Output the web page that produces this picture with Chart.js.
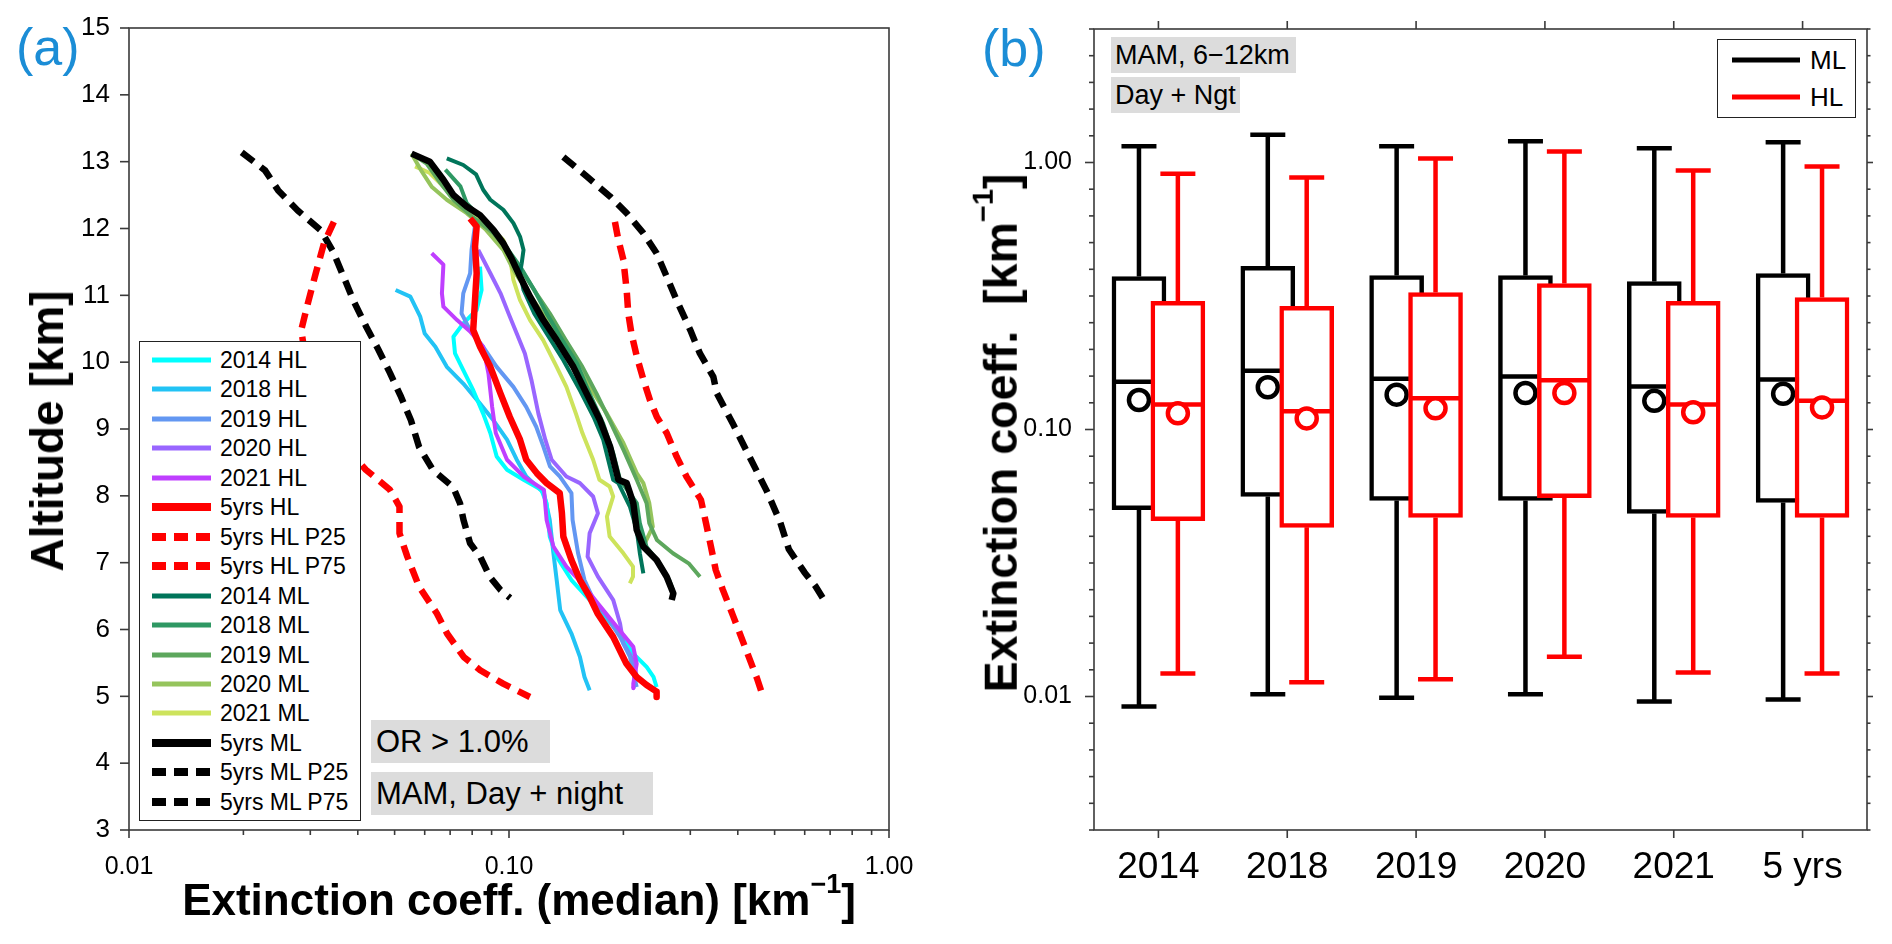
<!DOCTYPE html>
<html><head><meta charset="utf-8">
<script src="https://cdn.jsdelivr.net/npm/chart.js@4.4.1/dist/chart.umd.min.js"></script>
<style>
html,body{margin:0;padding:0;background:#fff;}
body{width:1892px;height:944px;position:relative;overflow:hidden;font-family:'Liberation Sans',Arial,Helvetica,sans-serif;color:#000;}
.wrap{position:absolute;top:0;width:946px;height:944px;}
.ov{position:absolute;white-space:nowrap;line-height:1;}
.panel{font-size:52px;color:#1b8dd6;}
.tag{background:#dcdcdc;box-sizing:border-box;}
.ttl{font-weight:bold;}
.sup{line-height:0;}
.leg{position:absolute;border:1.5px solid #222;background:#fff;box-sizing:border-box;}
.lrow{position:absolute;height:24px;display:flex;align-items:center;white-space:nowrap;}
.lrow span{line-height:24px;}
</style></head>
<body>
<div class="wrap" style="left:0"><canvas id="cA"></canvas></div>
<div class="wrap" style="left:946px"><canvas id="cB"></canvas></div>

<div class="ov panel" style="left:16px;top:21px">(a)</div>
<div class="ov panel" style="left:982px;top:22px">(b)</div>

<div class="ov ttl" style="left:47px;top:431px;font-size:46px;transform:translate(-50%,-50%) rotate(-90deg);">Altitude [km]</div>
<div class="ov ttl" style="left:519px;top:878px;font-size:44px;transform:translateX(-50%);">Extinction coeff. (median) [km<span class="sup" style="font-size:27px;vertical-align:22px;">−1</span>]</div>
<div class="ov ttl" style="left:1001px;top:433px;font-size:46.5px;transform:translate(-50%,-50%) rotate(-90deg);">Extinction coeff.&nbsp; [km<span class="sup" style="font-size:29px;vertical-align:24px;">−1</span>]</div>

<div class="ov tag" style="left:371px;top:720px;width:179px;height:43px;line-height:43px;font-size:31px;padding-left:5px;">OR &gt; 1.0%</div>
<div class="ov tag" style="left:371px;top:772px;width:282px;height:43px;line-height:43px;font-size:31px;padding-left:5px;">MAM, Day + night</div>
<div class="ov tag" style="left:1111px;top:37px;width:185px;height:36px;line-height:36px;font-size:27px;padding-left:4px;">MAM, 6−12km</div>
<div class="ov tag" style="left:1111px;top:77px;width:129px;height:36px;line-height:36px;font-size:27px;padding-left:4px;">Day + Ngt</div>

<div id="legA" class="leg" style="left:139px;top:341px;width:222px;height:480px;"></div>
<div id="legB" class="leg" style="left:1717px;top:39px;width:139px;height:79px;"></div>

<script>
// ---------------- DATA: panel (a) — [extinction km^-1, altitude km] ----------------
const hl2014 = [[0.0839,11.43],[0.0847,11.08],[0.0822,10.78],[0.0758,10.58],[0.0714,10.38],[0.0721,10.13],[0.0758,9.88],[0.0805,9.58],[0.0855,9.23],[0.0893,8.94],[0.0928,8.59],[0.0988,8.39],[0.1092,8.24],[0.1216,8.09],[0.1256,7.89],[0.128,7.39],[0.1335,7.09],[0.146,6.74],[0.1601,6.49],[0.1756,6.24],[0.192,5.99],[0.2124,5.64],[0.2302,5.44],[0.24,5.29],[0.2446,5.14]];
const hl2018 = [[0.0503,11.08],[0.0550,10.98],[0.0584,10.68],[0.0600,10.43],[0.0640,10.23],[0.0686,9.93],[0.0758,9.68],[0.0839,9.38],[0.0910,9.13],[0.0988,8.84],[0.1048,8.54],[0.1110,8.29],[0.1236,8.04],[0.128,7.64],[0.1309,7.14],[0.1335,6.74],[0.1364,6.29],[0.146,5.94],[0.1537,5.59],[0.158,5.29],[0.163,5.09]];
const hl2019 = [[0.0814,12.05],[0.0797,11.68],[0.0790,11.33],[0.0758,11.03],[0.0750,10.73],[0.0790,10.48],[0.0855,10.23],[0.0928,9.93],[0.1027,9.63],[0.1110,9.33],[0.1180,9.03],[0.1231,8.74],[0.1282,8.44],[0.136,8.29],[0.146,8.04],[0.147,7.64],[0.152,7.14],[0.158,6.74],[0.167,6.44],[0.181,6.19],[0.196,5.89],[0.2082,5.59],[0.2124,5.34],[0.2168,5.14]];
const hl2020 = [[0.0830,11.68],[0.0893,11.33],[0.0950,11.03],[0.0997,10.73],[0.1048,10.43],[0.1101,10.13],[0.1146,9.73],[0.1195,9.23],[0.1246,8.84],[0.1295,8.54],[0.1416,8.29],[0.1537,8.19],[0.1665,7.99],[0.1714,7.74],[0.163,7.44],[0.161,7.09],[0.1714,6.79],[0.1881,6.44],[0.196,6.09],[0.200,5.79],[0.2124,5.54],[0.2168,5.29],[0.2124,5.12]];
const hl2021 = [[0.0626,11.63],[0.0672,11.46],[0.0666,11.03],[0.0672,10.83],[0.0730,10.63],[0.0790,10.46],[0.0855,10.23],[0.0883,9.83],[0.0903,9.33],[0.0923,8.94],[0.0988,8.54],[0.1092,8.29],[0.1236,8.09],[0.1256,7.64],[0.1309,7.24],[0.1416,6.94],[0.1558,6.69],[0.1714,6.39],[0.1922,6.04],[0.2124,5.74],[0.2168,5.49],[0.2124,5.19],[0.2124,5.12]];
const hl5yrs = [[0.0790,12.15],[0.0822,12.03],[0.0814,11.73],[0.0822,11.33],[0.0814,10.93],[0.0805,10.48],[0.0839,10.23],[0.0893,9.93],[0.0950,9.53],[0.1005,9.18],[0.1069,8.84],[0.1110,8.54],[0.1183,8.34],[0.1256,8.19],[0.136,8.04],[0.1378,7.74],[0.139,7.39],[0.146,7.04],[0.1537,6.74],[0.163,6.49],[0.171,6.24],[0.188,5.89],[0.2036,5.49],[0.2168,5.29],[0.2302,5.17],[0.2446,5.07],[0.2446,4.99]];
const hlP25 = [[0.0346,12.1],[0.0326,11.78],[0.031,11.33],[0.0294,10.83],[0.0284,10.48],[0.029,10.14],[0.0318,9.84],[0.0338,9.48],[0.0361,9.03],[0.0384,8.64],[0.042,8.39],[0.0486,8.09],[0.0515,7.84],[0.0515,7.44],[0.054,7.09],[0.058,6.64],[0.0646,6.24],[0.0687,5.94],[0.076,5.59],[0.084,5.39],[0.0965,5.19],[0.1135,4.99]];
const hlP75 = [[0.19,12.1],[0.194,11.83],[0.2,11.53],[0.204,11.08],[0.206,10.73],[0.21,10.43],[0.217,10.08],[0.226,9.73],[0.235,9.43],[0.245,9.18],[0.26,8.94],[0.276,8.59],[0.293,8.29],[0.32,7.94],[0.33,7.59],[0.34,7.24],[0.35,6.89],[0.365,6.6],[0.389,6.2],[0.423,5.66],[0.45,5.26],[0.466,5.0]];
const ml2014 = [[0.0686,13.05],[0.0758,12.95],[0.0819,12.81],[0.0855,12.58],[0.0893,12.43],[0.0966,12.28],[0.1027,12.08],[0.1069,11.88],[0.1092,11.68],[0.108,11.48],[0.1069,11.33],[0.1092,11.08],[0.1165,10.73],[0.1256,10.43],[0.139,10.03],[0.1537,9.58],[0.167,9.18],[0.177,8.84],[0.188,8.24],[0.194,8.19],[0.208,7.84],[0.2168,7.49],[0.221,7.14],[0.2257,6.84]];
const ml2018 = [[0.068,12.88],[0.0745,12.63],[0.0774,12.38],[0.087,12.08],[0.098,11.73],[0.107,11.43],[0.1165,11.08],[0.1256,10.73],[0.1364,10.38],[0.151,9.98],[0.163,9.53],[0.177,9.08],[0.188,8.64],[0.196,8.24],[0.204,8.1],[0.217,7.89],[0.221,7.59],[0.23,7.24],[0.249,6.99],[0.264,6.74],[0.27,6.59]];
const ml2019 = [[0.0554,13.12],[0.0607,12.97],[0.066,12.68],[0.0714,12.43],[0.080,12.18],[0.091,11.93],[0.1005,11.63],[0.1092,11.33],[0.118,11.03],[0.128,10.73],[0.141,10.33],[0.156,9.93],[0.170,9.53],[0.184,9.13],[0.2,8.69],[0.2168,8.24],[0.2302,7.89],[0.234,7.59],[0.245,7.34],[0.27,7.14],[0.297,6.99],[0.318,6.79]];
const ml2020 = [[0.0554,13.12],[0.0587,12.87],[0.0627,12.62],[0.0686,12.43],[0.0774,12.23],[0.087,11.98],[0.0966,11.68],[0.1027,11.38],[0.111,11.08],[0.121,10.78],[0.1335,10.43],[0.1477,10.03],[0.163,9.63],[0.181,9.23],[0.2,8.79],[0.2168,8.34],[0.2257,8.19],[0.234,7.89],[0.239,7.54],[0.23,7.34],[0.2257,7.24]];
const ml2021 = [[0.0566,12.93],[0.0619,12.83],[0.0686,12.58],[0.0774,12.33],[0.087,12.08],[0.0966,11.83],[0.1005,11.58],[0.1027,11.23],[0.1069,10.93],[0.1136,10.63],[0.123,10.33],[0.1335,9.93],[0.1416,9.63],[0.15,9.23],[0.156,8.94],[0.1665,8.54],[0.173,8.24],[0.184,8.14],[0.188,7.99],[0.181,7.69],[0.184,7.39],[0.2,7.14],[0.212,6.94],[0.212,6.79],[0.208,6.69]];
const ml5yrs = [[0.0554,13.12],[0.0619,13.0],[0.0672,12.73],[0.0714,12.5],[0.0774,12.33],[0.0839,12.2],[0.091,11.98],[0.0966,11.78],[0.1016,11.55],[0.1069,11.28],[0.1136,10.98],[0.1231,10.63],[0.1335,10.33],[0.1477,9.93],[0.1601,9.53],[0.1736,9.13],[0.1844,8.74],[0.194,8.24],[0.204,8.19],[0.2124,7.89],[0.2168,7.49],[0.2257,7.24],[0.2446,7.04],[0.26,6.79],[0.2707,6.54],[0.268,6.44]];
const mlP25 = [[0.0198,13.14],[0.0228,12.87],[0.0247,12.57],[0.0278,12.27],[0.032,11.97],[0.0344,11.66],[0.0372,11.2],[0.0389,10.93],[0.0421,10.53],[0.0452,10.2],[0.0486,9.84],[0.052,9.48],[0.0552,9.13],[0.058,8.73],[0.063,8.39],[0.0713,8.13],[0.0743,7.89],[0.0759,7.64],[0.079,7.29],[0.084,7.09],[0.089,6.79],[0.095,6.59],[0.1007,6.47]];
const mlP75 = [[0.139,13.07],[0.160,12.78],[0.1844,12.48],[0.204,12.23],[0.2257,11.93],[0.2446,11.63],[0.26,11.28],[0.276,10.93],[0.30,10.48],[0.318,10.13],[0.345,9.78],[0.352,9.54],[0.389,9.07],[0.422,8.67],[0.477,8.07],[0.517,7.61],[0.545,7.2],[0.60,6.85],[0.64,6.65],[0.675,6.44]];
const xTicksA = [0.01, 0.1, 1];
const yTicksA = [3,4,5,6,7,8,9,10,11,12,13,14,15];

// ---------------- DATA: panel (b) ----------------
const categories = ['2014','2018','2019','2020','2021','5 yrs'];
const mlMax  = [1.15, 1.27, 1.15, 1.20, 1.13, 1.19];
const mlQ3   = [0.374, 0.408, 0.377, 0.377, 0.358, 0.384];
const mlMed  = [0.151, 0.166, 0.155, 0.158, 0.145, 0.154];
const mlQ1   = [0.0501, 0.0561, 0.0542, 0.0542, 0.0485, 0.0533];
const mlMin  = [0.00918, 0.0102, 0.0099, 0.0102, 0.00958, 0.00975];
const mlMean = [0.129, 0.144, 0.135, 0.137, 0.128, 0.136];
const hlMax  = [0.907, 0.879, 1.035, 1.10, 0.933, 0.966];
const hlQ3   = [0.302, 0.289, 0.326, 0.352, 0.302, 0.312];
const hlMed  = [0.124, 0.117, 0.131, 0.153, 0.124, 0.128];
const hlQ1   = [0.0456, 0.043, 0.0468, 0.0556, 0.0468, 0.0468];
const hlMin  = [0.0122, 0.0113, 0.0116, 0.0141, 0.0123, 0.0122];
const hlMean = [0.115, 0.110, 0.120, 0.137, 0.116, 0.121];
const yTicksB = [0.01, 0.1, 1];

// ---------------- styling ----------------
Chart.defaults.font.family = "'Liberation Sans', Arial, Helvetica, sans-serif";
Chart.defaults.color = '#000';
const FRAME = '#3a3a3a';
const DASH = [15, 9];
const BOXW = 4.5;

const seriesA = [
  {label:'2014 HL', data:hl2014, color:'#00ffff', w:4, order:6},
  {label:'2018 HL', data:hl2018, color:'#22c3f5', w:4, order:6},
  {label:'2019 HL', data:hl2019, color:'#6397f2', w:4, order:5},
  {label:'2020 HL', data:hl2020, color:'#9966ff', w:4, order:5},
  {label:'2021 HL', data:hl2021, color:'#bf3fff', w:4, order:4},
  {label:'5yrs HL', data:hl5yrs, color:'#ff0000', w:6.5, order:0},
  {label:'5yrs HL P25', data:hlP25, color:'#ff0000', w:6.5, dash:DASH, order:2},
  {label:'5yrs HL P75', data:hlP75, color:'#ff0000', w:6.5, dash:DASH, order:2},
  {label:'2014 ML', data:ml2014, color:'#00755a', w:4, order:3},
  {label:'2018 ML', data:ml2018, color:'#2e9863', w:4, order:3},
  {label:'2019 ML', data:ml2019, color:'#5da75d', w:4, order:3},
  {label:'2020 ML', data:ml2020, color:'#95c45c', w:4, order:3},
  {label:'2021 ML', data:ml2021, color:'#cde35c', w:4, order:3},
  {label:'5yrs ML', data:ml5yrs, color:'#000000', w:6.5, order:1},
  {label:'5yrs ML P25', data:mlP25, color:'#000000', w:6.5, dash:DASH, order:2},
  {label:'5yrs ML P75', data:mlP75, color:'#000000', w:6.5, dash:DASH, order:2}
];

function line(ctx,x1,y1,x2,y2){ctx.beginPath();ctx.moveTo(x1,y1);ctx.lineTo(x2,y2);ctx.stroke();}

const frameA = {
  id:'frameA',
  afterDraw(chart){
    const {ctx, chartArea:a, scales:{x, y}} = chart;
    ctx.save();
    ctx.strokeStyle = FRAME; ctx.lineWidth = 1.6;
    ctx.strokeRect(a.left, a.top, a.right-a.left, a.bottom-a.top);
    for (let d = 0.01; d < 1.0001; d *= 10) {
      for (let m = 1; m <= 9; m++) {
        const v = m*d; if (v > 1.0001) break;
        const px = x.getPixelForValue(v);
        line(ctx, px, a.bottom, px, a.bottom + (m===1 ? 8 : 5));
      }
    }
    yTicksA.forEach(v => { const py = y.getPixelForValue(v); line(ctx, a.left-9, py, a.left, py); });
    ctx.restore();
  }
};

const chartA = new Chart(document.getElementById('cA'), {
  type:'scatter',
  data:{datasets: seriesA.map(s => ({
    label:s.label, data:s.data.map(p => ({x:p[0], y:p[1]})),
    showLine:true, borderColor:s.color, backgroundColor:s.color, borderWidth:s.w,
    borderDash:s.dash || [], pointRadius:0, pointHoverRadius:0, tension:0,
    borderCapStyle:'butt', borderJoinStyle:'round', order:s.order
  }))},
  options:{
    responsive:true, maintainAspectRatio:false, animation:false, events:[],
    layout:{padding:{top:28, right:57, left:0, bottom:0}},
    plugins:{legend:{display:false}, tooltip:{enabled:false}},
    scales:{
      x:{type:'logarithmic', min:0.01, max:1,
         grid:{display:false}, border:{display:false},
         afterBuildTicks(s){ s.ticks = xTicksA.map(v => ({value:v, major:true})); },
         afterFit(s){ s.height = 114; },
         ticks:{autoSkip:false, maxRotation:0, minRotation:0, padding:14, font:{size:25},
                callback:(v) => Number(v).toFixed(2)}},
      y:{type:'linear', min:3, max:15,
         grid:{display:false}, border:{display:false},
         afterBuildTicks(s){ s.ticks = yTicksA.map(v => ({value:v})); },
         afterFit(s){ s.width = 129; },
         ticks:{autoSkip:false, padding:11, font:{size:26}, callback:(v) => String(v)}}
    }
  },
  plugins:[frameA]
});

// legend (a)
const legA = document.getElementById('legA');
seriesA.forEach((s, i) => {
  const row = document.createElement('div');
  row.className = 'lrow';
  row.style.left = '12px';
  row.style.top = (18 + i*29.45 - 12) + 'px';
  const lw = s.w > 5 ? 8 : 5;
  const dash = s.dash ? `stroke-dasharray="14 8"` : '';
  row.innerHTML = `<svg width="59" height="24" style="display:block"><line x1="0" y1="12" x2="59" y2="12" stroke="${s.color}" stroke-width="${lw}" ${dash}/></svg><span style="font-size:23px;margin-left:9px">${s.label}</span>`;
  legA.appendChild(row);
});

// ---------------- panel (b) ----------------
const OFF = 0.151;
const statsB = {
  ML:{min:mlMin, q1:mlQ1, med:mlMed, q3:mlQ3, max:mlMax},
  HL:{min:hlMin, q1:hlQ1, med:hlMed, q3:hlQ3, max:hlMax}
};

const whiskers = {
  id:'whiskers',
  afterDatasetDraw(chart, args){
    const ds = chart.data.datasets[args.index];
    if (ds.type !== 'bar') return;
    const st = statsB[ds.label];
    const y = chart.scales.y, ctx = chart.ctx;
    ctx.save();
    ctx.strokeStyle = ds.borderColor; ctx.lineWidth = BOXW; ctx.lineCap = 'butt';
    args.meta.data.forEach((el, i) => {
      const x = el.x, w = el.width;
      const yMax = y.getPixelForValue(st.max[i]), yQ3 = y.getPixelForValue(st.q3[i]);
      const yMin = y.getPixelForValue(st.min[i]), yQ1 = y.getPixelForValue(st.q1[i]);
      const yMed = y.getPixelForValue(st.med[i]);
      line(ctx, x, yQ3, x, yMax); line(ctx, x-17.5, yMax, x+17.5, yMax);
      line(ctx, x, yQ1, x, yMin); line(ctx, x-17.5, yMin, x+17.5, yMin);
      line(ctx, x - w/2 + 2, yMed, x + w/2 - 2, yMed);
    });
    ctx.restore();
  }
};

const frameB = {
  id:'frameB',
  afterDraw(chart){
    const {ctx, chartArea:a, scales:{x, y}} = chart;
    ctx.save();
    ctx.strokeStyle = FRAME; ctx.lineWidth = 1.6;
    ctx.strokeRect(a.left, a.top, a.right-a.left, a.bottom-a.top);
    const lo = Math.log10(y.min), hi = Math.log10(y.max);
    for (let k = Math.ceil(lo*10 - 1e-6); k <= Math.floor(hi*10 + 1e-6); k++) {
      const v = Math.pow(10, k/10);
      const py = y.getPixelForValue(v);
      const major = (k % 10 === 0);
      line(ctx, a.left - (major ? 9 : 5), py, a.left, py);
      line(ctx, a.right, py, a.right + (major ? 6 : 3.5), py);
    }
    categories.forEach((c, i) => {
      const px = x.getPixelForValue(i);
      line(ctx, px, a.top - 8, px, a.top);
      line(ctx, px, a.bottom, px, a.bottom + 8);
    });
    ctx.restore();
  }
};

const chartB = new Chart(document.getElementById('cB'), {
  type:'bar',
  data:{datasets:[
    {type:'bar', label:'ML', data:categories.map((c,i) => ({x:i-OFF, y:[mlQ1[i], mlQ3[i]]})),
     backgroundColor:'#ffffff', borderColor:'#000000', borderWidth:BOXW, borderSkipped:false,
     grouped:false, barThickness:54, order:4},
    {type:'scatter', label:'ML mean', data:categories.map((c,i) => ({x:i-OFF, y:mlMean[i]})),
     pointRadius:10, pointHoverRadius:10, borderWidth:4.5, borderColor:'#000000', backgroundColor:'#ffffff', order:3},
    {type:'bar', label:'HL', data:categories.map((c,i) => ({x:i+OFF, y:[hlQ1[i], hlQ3[i]]})),
     backgroundColor:'#ffffff', borderColor:'#ff0000', borderWidth:BOXW, borderSkipped:false,
     grouped:false, barThickness:54, order:2},
    {type:'scatter', label:'HL mean', data:categories.map((c,i) => ({x:i+OFF, y:hlMean[i]})),
     pointRadius:10, pointHoverRadius:10, borderWidth:4.5, borderColor:'#ff0000', backgroundColor:'#ffffff', order:1}
  ]},
  options:{
    responsive:true, maintainAspectRatio:false, animation:false, events:[],
    layout:{padding:{top:29, right:25, left:0, bottom:0}},
    plugins:{legend:{display:false}, tooltip:{enabled:false}},
    scales:{
      x:{type:'linear', min:-0.5, max:5.5, offset:false,
         grid:{display:false, offset:false}, border:{display:false},
         afterBuildTicks(s){ s.ticks = categories.map((c,i) => ({value:i})); },
         afterFit(s){ s.height = 114; },
         ticks:{autoSkip:false, maxRotation:0, minRotation:0, padding:8, font:{size:37},
                callback:(v) => categories[Math.round(v)]}},
      y:{type:'logarithmic', min:Math.pow(10,-2.5), max:Math.pow(10,0.5),
         grid:{display:false}, border:{display:false},
         afterBuildTicks(s){ s.ticks = yTicksB.map(v => ({value:v, major:true})); },
         afterFit(s){ s.width = 148; },
         ticks:{autoSkip:false, padding:14, font:{size:25}, callback:(v) => Number(v).toFixed(2)}}
    }
  },
  plugins:[whiskers, frameB]
});

// legend (b)
const legB = document.getElementById('legB');
[['ML','#000000', 20],['HL','#ff0000', 57]].forEach(([lab, col, cy]) => {
  const row = document.createElement('div');
  row.className = 'lrow';
  row.style.left = '14px';
  row.style.top = (cy - 12) + 'px';
  row.innerHTML = `<svg width="68" height="24" style="display:block"><line x1="0" y1="12" x2="68" y2="12" stroke="${col}" stroke-width="5"/></svg><span style="font-size:26px;margin-left:10px">${lab}</span>`;
  legB.appendChild(row);
});
</script>
</body></html>
